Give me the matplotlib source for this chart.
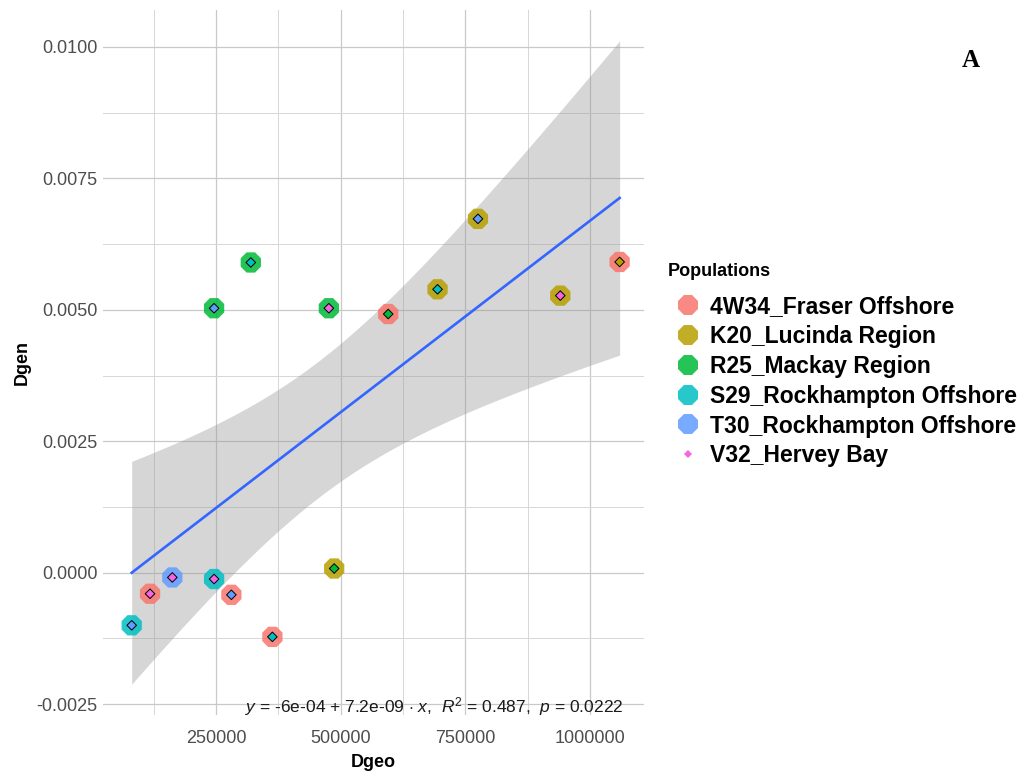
import numpy as np
import matplotlib
matplotlib.use("Agg")
import matplotlib.pyplot as plt
from matplotlib.lines import Line2D
from matplotlib.ticker import MultipleLocator

plt.rcParams["font.family"] = ["Liberation Sans", "DejaVu Sans"]
plt.rcParams["mathtext.fontset"] = "custom"
plt.rcParams["mathtext.rm"] = "Liberation Sans"
plt.rcParams["mathtext.it"] = "Liberation Sans:italic"

# population palette (ggplot hue order)
populations = ["4W34_Fraser Offshore", "K20_Lucinda Region", "R25_Mackay Region",
               "S29_Rockhampton Offshore", "T30_Rockhampton Offshore", "V32_Hervey Bay"]
pop_colors = ["#F8766D", "#B79F00", "#00BA38", "#00BFC4", "#619CFF", "#F564E3"]

# pairwise comparisons: first population (outer), second population (inner diamond)
pop1 = [3, 0, 4, 3, 0, 0, 1, 2, 2, 2, 0, 1, 1, 1, 0]
pop2 = [4, 5, 5, 5, 4, 3, 2, 3, 4, 5, 2, 3, 4, 5, 1]
dgeo = [80700, 117500, 162200, 246000, 280700, 363000, 487000, 319700,
        246000, 476300, 595400, 694400, 775500, 940700, 1059800]
dgen = [-0.00100, -0.00040, -0.00009, -0.00012, -0.00042, -0.00122, 0.00008, 0.00590,
        0.00503, 0.00503, 0.00492, 0.00539, 0.00673, 0.00527, 0.00591]

x = np.array(dgeo, dtype=float)
y = np.array(dgen)

# linear fit with 95% confidence band
n = len(x)
slope, intercept = np.polyfit(x, y, 1)
resid = y - (intercept + slope * x)
s = np.sqrt(np.sum(resid ** 2) / (n - 2))
sxx = np.sum((x - x.mean()) ** 2)
t_crit = 2.1604  # t(0.975, df=13)
xs = np.linspace(x.min(), x.max(), 80)
ys = intercept + slope * xs
half = t_crit * s * np.sqrt(1 / n + (xs - x.mean()) ** 2 / sxx)

fig = plt.figure(figsize=(10.29, 7.76), dpi=100)
ax = fig.add_axes([0.1001, 0.079, 0.5258, 0.908])

ax.fill_between(xs, ys - half, ys + half, color="#999999", alpha=0.4, lw=0, zorder=2)
ax.plot(xs, ys, color="#3366FF", lw=1.9, zorder=3)

outer = [pop_colors[i] for i in pop1]
inner = [pop_colors[i] for i in pop2]
ax.scatter(x, y, s=250, marker="8", c=outer, alpha=0.85, lw=0, zorder=4)
ax.scatter(x, y, s=24, marker="D", c=inner, edgecolors="black", linewidths=0.7, zorder=5)

ax.text(1067000, -0.00254,
        r"$y$ = -6e-04 + 7.2e-09 $\cdot$ $x$,  $R^2$ = 0.487,  $p$ = 0.0222",
        ha="right", va="center", fontsize=12.5, color="#1a1a1a", zorder=6)

ax.set_xlim(23100, 1108800)
ax.set_ylim(-0.0027, 0.0107)
ax.xaxis.set_major_locator(MultipleLocator(250000))
ax.xaxis.set_minor_locator(MultipleLocator(125000))
ax.yaxis.set_major_locator(MultipleLocator(0.0025))
ax.yaxis.set_minor_locator(MultipleLocator(0.00125))
ax.set_xticks([250000, 500000, 750000, 1000000])
ax.set_xticklabels(["250000", "500000", "750000", "1000000"])
ax.yaxis.set_major_formatter(matplotlib.ticker.FuncFormatter(lambda v, p: f"{v:.4f}"))
ax.grid(which="major", color="#C9C9C9", lw=0.9, zorder=0)
ax.grid(which="minor", color="#D6D6D6", lw=0.7, zorder=0)
ax.set_axisbelow(True)
ax.tick_params(which="both", length=0, labelsize=13, labelcolor="#4D4D4D")
ax.tick_params(axis="x", pad=11)
ax.tick_params(axis="y", pad=4)
for sp in ax.spines.values():
    sp.set_visible(False)
ax.set_xlabel("Dgeo", fontsize=13, fontweight="bold", labelpad=5)
ax.set_ylabel("Dgen", fontsize=13, fontweight="bold", labelpad=4)

handles = [Line2D([], [], ls="", marker="8", ms=15.5, color=c, alpha=0.85, mew=0)
           for c in pop_colors[:5]]
handles.append(Line2D([], [], ls="", marker="D", ms=4.5, color=pop_colors[5], mew=0))
fig.text(0.649, 1 - 271 / 776, "Populations", fontsize=13, fontweight="bold",
         ha="left", va="center")
leg = fig.legend(handles, populations, loc="upper left", bbox_to_anchor=(0.657, 1 - 295 / 776),
                 frameon=False, prop={"size": 16.5, "weight": "bold"}, handletextpad=0.5,
                 labelspacing=0.30, handlelength=1.0, borderaxespad=0, borderpad=0)

fig.text(0.943, 0.922, "A", fontsize=18, fontweight="bold",
         family=["Liberation Serif", "DejaVu Serif"], ha="center", va="center")

fig.savefig("out.png", dpi=100, facecolor="white")
